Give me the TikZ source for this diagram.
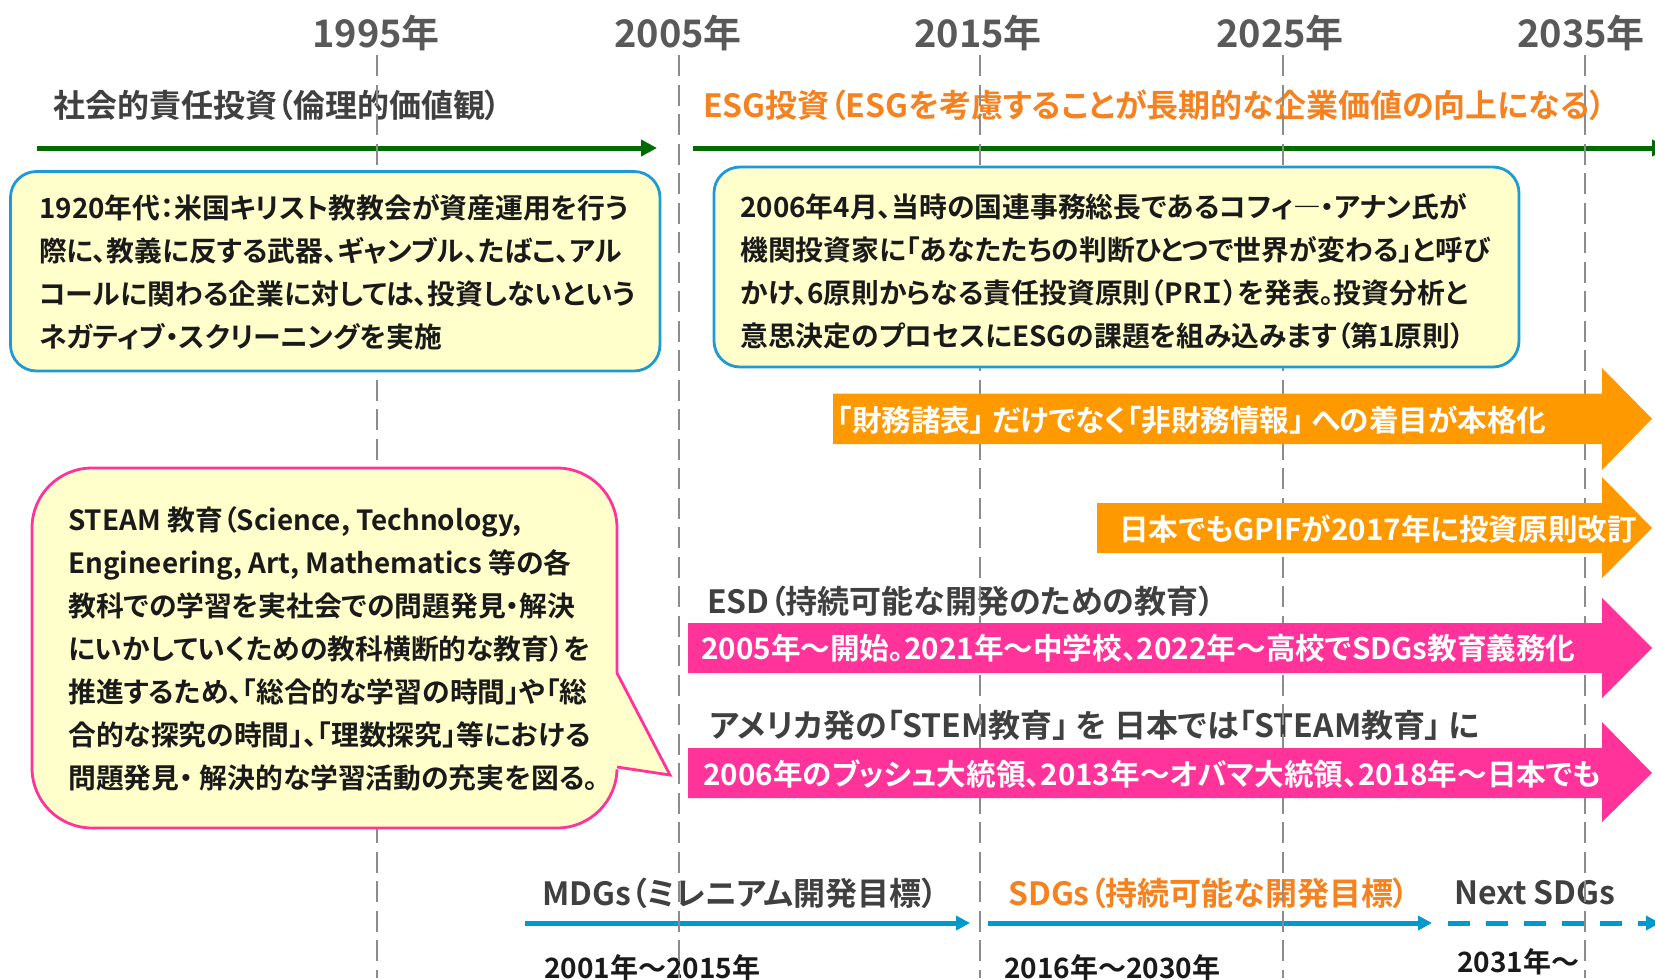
\documentclass[tikz,border=0pt]{standalone}
\usepackage{fontspec}
\setmainfont{Noto Sans CJK JP}[UprightFont={* Bold}, RawFeature={+palt}]
\usetikzlibrary{arrows.meta}
\definecolor{yeargray}{HTML}{595959}
\definecolor{titlegray}{HTML}{404040}
\definecolor{textblack}{HTML}{1A1A1A}
\definecolor{gridgray}{HTML}{8C8C8C}
\definecolor{esggreen}{RGB}{0,108,0}
\definecolor{boxblue}{HTML}{1E9AD6}
\definecolor{lineblue}{HTML}{0099CC}
\definecolor{paleyellow}{HTML}{FFFFCC}
\definecolor{hotpink}{HTML}{FF3399}
\definecolor{arroworange}{HTML}{FF9900}
\definecolor{titleorange}{HTML}{F5821F}
\newcommand\blockarrow[8]{\fill[#1] (#2,#3) -- (#5,#3) -- (#5,#6) -- (#8,{(#3+#4)/2}) -- (#5,#7) -- (#5,#4) -- (#2,#4) -- cycle;}
\begin{document}
\begin{tikzpicture}[x=1pt,y=-1pt,
  yearlbl/.style={font=\fontsize{38}{40}\selectfont, text=yeargray, inner sep=0pt},
  ttl/.style={font=\fontsize{32}{34}\selectfont, text=titlegray, anchor=west, inner sep=0pt},
  bodytxt/.style={font=\fontsize{27.8}{43}\selectfont, text=textblack, anchor=west, align=left, inner sep=0pt},
  arrtxt/.style={font=\fontsize{29.6}{31}\selectfont, text=white, anchor=west, inner sep=0pt},
  datetxt/.style={font=\fontsize{28}{30}\selectfont, text=textblack, anchor=west, inner sep=0pt},
  gridline/.style={draw=gridgray, line width=2.5pt, dash pattern=on 21pt off 8.5pt},
  greenarrow/.style={draw=esggreen, line width=5pt, -{Triangle[length=16pt,width=16pt]}},
  bluearrow/.style={draw=lineblue, line width=5pt, -{Triangle[length=14pt,width=14pt]}},
  infobox/.style={draw=boxblue, line width=2.8pt, fill=paleyellow, rounded corners=26pt},
  bubble/.style={draw=hotpink, line width=2.8pt, fill=paleyellow, rounded corners=60pt}]
\useasboundingbox (0,0) rectangle (1655,980);
\fill[white] (0,0) rectangle (1655,980);

% year labels
\node[yearlbl] (y1995) at (376,32.5) {1995年};
\node[yearlbl] (y2005) at (678,32.5) {2005年};
\node[yearlbl] (y2015) at (978,32.5) {2015年};
\node[yearlbl] (y2025) at (1280,32.5) {2025年};
\node[yearlbl] (y2035) at (1581,32.5) {2035年};

% titles
\node[ttl] (sri) at (53,105) {社会的責任投資（倫理的価値観）};
\node[ttl, text=titleorange] (esg) at (703,105) {ESG投資（ESGを考慮することが長期的な企業価値の向上になる）};

% green arrows
\coordinate (g1s) at (37,148);
\coordinate (g1e) at (657,148);
\coordinate (g2s) at (693,148);
\coordinate (g2e) at (1668,148);
\draw[greenarrow] (g1s) -- (g1e);
\draw[greenarrow] (g2s) -- (g2e);

% other titles
\node[ttl] (esd) at (707,601) {ESD（持続可能な開発のための教育）};
\node[ttl] (stem) at (709,725) {アメリカ発の「STEM教育」 を 日本では「STEAM教育」 に};

% bottom timeline
\node[ttl] (mdgs) at (542,893) {MDGs（ミレニアム開発目標）};
\node[ttl, text=titleorange] (sdgs) at (1008,893) {SDGs（持続可能な開発目標）};
\node[ttl] (next) at (1454,893) {Next SDGs};
\coordinate (b1s) at (525,923);
\coordinate (b1e) at (970,923);
\coordinate (b2s) at (988,923);
\coordinate (b2e) at (1432,923);
\coordinate (b3s) at (1448,923);
\coordinate (b3e) at (1660,923);
\draw[bluearrow] (b1s) -- (b1e);
\draw[bluearrow] (b2s) -- (b2e);
\draw[bluearrow, dash pattern=on 22pt off 16pt] (b3s) -- (b3e);
\node[datetxt] (d1) at (544,968) {2001年～2015年};
\node[datetxt] (d2) at (1004,968) {2016年～2030年};
\node[datetxt] (d3) at (1457,962) {2031年～};

% vertical dashed grid
\foreach \gx in {377,679,980,1283,1585}
  \draw[gridline] (\gx,55) -- (\gx,978);

% info boxes
\draw[infobox] (10.5,171.5) rectangle (660,371);
\node[bodytxt] (sritxt) at (39,272.5) {1920年代：米国キリスト教教会が資産運用を行う\\際に、教義に反する武器、ギャンブル、たばこ、アル\\コールに関わる企業に対しては、投資しないという\\ネガティブ・スクリーニングを実施};
\draw[infobox] (714,167) rectangle (1519,367);
\node[bodytxt] (pritxt) at (740,271) {2006年4月、当時の国連事務総長であるコフィ―・アナン氏が\\機関投資家に「あなたたちの判断ひとつで世界が変わる」と呼び\\かけ、6原則からなる責任投資原則（PRＩ）を発表。投資分析と\\意思決定のプロセスにESGの課題を組み込みます（第1原則）};

% block arrows
\blockarrow{arroworange}{833}{393.5}{444}{1602}{368}{470}{1652}
\node[arrtxt] (fin) at (837,420) {「財務諸表」 だけでなく「非財務情報」 への着目が本格化};
\blockarrow{arroworange}{1097}{503}{553}{1602}{477}{578}{1652}
\node[arrtxt] (gpif) at (1119,529) {日本でもGPIFが2017年に投資原則改訂};
\blockarrow{hotpink}{688}{623}{673}{1602}{598}{698}{1652}
\node[arrtxt] (esdtxt) at (701,648) {2005年～開始。2021年～中学校、2022年～高校でSDGs教育義務化};
\blockarrow{hotpink}{688}{748}{798}{1602}{722}{822}{1652}
\node[arrtxt] (stemtxt) at (703,774) {2006年のブッシュ大統領、2013年～オバマ大統領、2018年～日本でも};

% speech bubble
\draw[bubble] (32,468) rectangle (617,828);
\fill[paleyellow] (614,670) -- (670,775) -- (614,769) -- cycle;
\draw[hotpink, line width=2.8pt, line join=miter] (617,673) -- (670,775) -- (617,767);
\node[bodytxt] (steamtxt) at (68,649) {STEAM 教育（Science, Technology,\\Engineering, Art, Mathematics 等の各\\教科での学習を実社会での問題発見・解決\\にいかしていくための教科横断的な教育）を\\推進するため、「総合的な学習の時間」や「総\\合的な探究の時間」、「理数探究」等における\\問題発見・ 解決的な学習活動の充実を図る。};
\end{tikzpicture}
\end{document}
